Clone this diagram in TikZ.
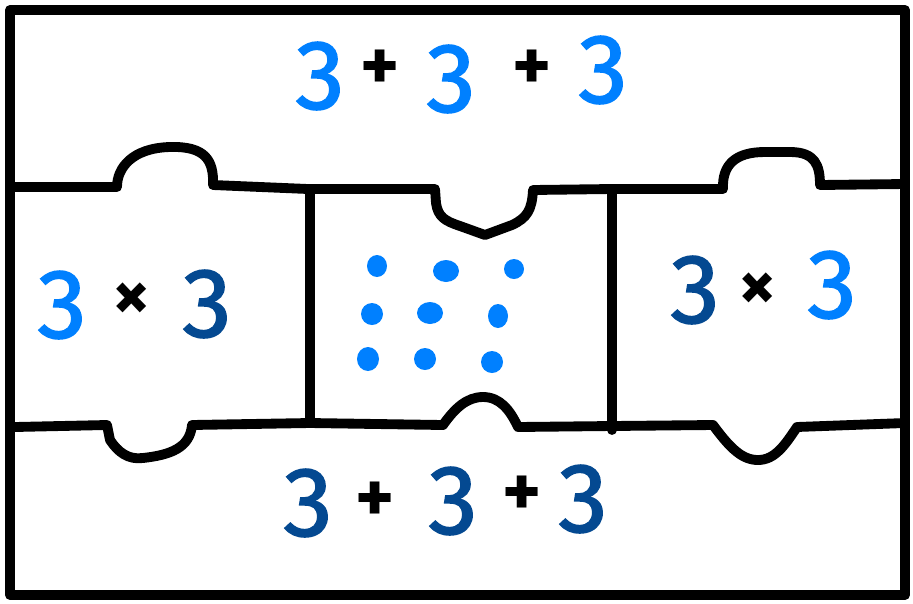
\documentclass[tikz,border=0pt]{standalone}
\usepackage{fontspec}
\setmainfont{Fira Sans}
\newfontfamily\handfont{Fira Sans}[FakeBold=1.6]
\definecolor{lightthree}{RGB}{0,128,255}
\definecolor{darkthree}{RGB}{4,73,145}

\begin{document}
\begin{tikzpicture}[
  x=0.02cm, y=-0.02cm,
  piece/.style={draw, line width=5.6pt, line cap=round, line join=round},
  digit/.style={inner sep=0pt, font=\fontsize{56}{60}\selectfont\handfont},
  lightd/.style={digit, text=lightthree},
  darkd/.style={digit, text=darkthree},
  opsign/.style={inner sep=0pt, font=\fontsize{42}{46}\selectfont\bfseries},
  dot/.style={fill=lightthree}
]
  \useasboundingbox (0,0) rectangle (913,603);

  % frame
  \draw[piece] (10,10) rectangle (905,595);

  % upper cut with tabs
  \draw[piece] (12,187) -- (117,187)
    .. controls (117,168) and (132,148) .. (170,147)
    .. controls (205,146) and (214,160) .. (213,185)
    -- (308,189) -- (435,189) -- (436,203)
    .. controls (438,217) and (445,221) .. (460,226) -- (485,235) -- (512,225)
    .. controls (527,218) and (532,210) .. (533,190)
    -- (612,189) -- (723,189)
    .. controls (722,165) and (735,152) .. (765,152) -- (790,152)
    .. controls (815,152) and (820,165) .. (820,185) -- (905,184);

  % lower cut with tabs
  \draw[piece] (15,427) -- (107,425) -- (110,440)
    .. controls (118,452) and (128,460) .. (143,458)
    .. controls (170,455) and (190,448) .. (192,425)
    -- (310,423) -- (443,425)
    .. controls (455,408) and (467,397) .. (483,397)
    .. controls (500,397) and (510,410) .. (518,427)
    -- (612,426) -- (713,425)
    .. controls (730,448) and (742,460) .. (758,460)
    .. controls (775,460) and (785,445) .. (797,427) -- (905,423);

  % middle pieces
  \draw[piece] (310,189) -- (310,423);
  \draw[piece] (612,189) -- (612,430);

  % top: 3 + 3 + 3
  \node[lightd] (top1) at (320,76) {3};
  \node[opsign] (topp1) at (380,70) {+};
  \node[lightd] (top2) at (451,79) {3};
  \node[opsign] (topp2) at (532,70) {+};
  \node[lightd] (top3) at (603,70) {3};

  % left: 3 x 3
  \node[lightd] (left1) at (62,305) {3};
  \node[opsign] (leftx) at (132,302) {×};
  \node[darkd] (left2) at (207,304) {3};

  % right: 3 x 3
  \node[darkd] (right1) at (695,290) {3};
  \node[opsign] (rightx) at (758,292) {×};
  \node[lightd] (right2) at (832,285) {3};

  % bottom: 3 + 3 + 3
  \node[darkd] (bot1) at (308,503) {3};
  \node[opsign] (botp1) at (375,502) {+};
  \node[darkd] (bot2) at (453,501) {3};
  \node[opsign] (botp2) at (522,496) {+};
  \node[darkd] (bot3) at (583,499) {3};

  % nine dots
  \foreach \px/\py/\rx/\ry in {377/266/10/11, 446/271/13/11, 514/269/10/10,
                               372/314/11/11, 430/313/13/11, 498/316/10/12,
                               368/359/11/12, 425/359/11/11, 492/362/11/11}
    \fill[dot] (\px,\py) ellipse [x radius=\rx*0.02cm, y radius=\ry*0.02cm];
\end{tikzpicture}
\end{document}
